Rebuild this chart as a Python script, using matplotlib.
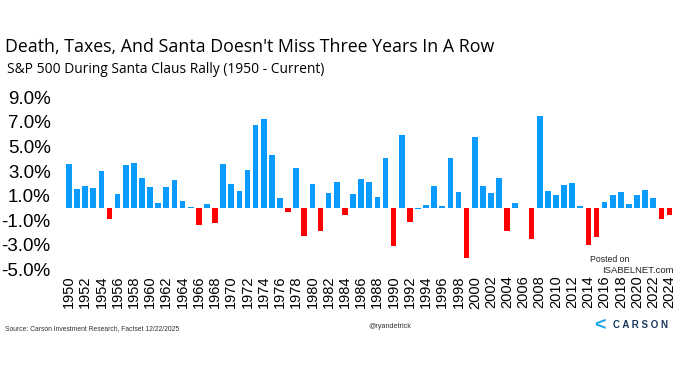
import matplotlib.pyplot as plt
import matplotlib.ticker as mticker

years = list(range(1950, 2025))
returns = [
    3.55, 1.53, 1.80, 1.64, 2.98, -0.93, 1.15, 3.52, 3.63, 2.40,
    1.67, 0.36, 1.72, 2.27, 0.55, 0.05, -1.42, 0.27, -1.20, 3.58,
    1.91, 1.34, 3.11, 6.72, 7.24, 4.34, 0.77, -0.33, 3.25, -2.27,
    1.94, -1.89, 1.17, 2.13, -0.60, 1.09, 2.35, 2.13, 0.87, 4.07,
    -3.09, 5.93, -1.12, -0.12, 0.22, 1.78, 0.14, 4.04, 1.31, -4.10,
    5.74, 1.78, 1.23, 2.40, -1.86, 0.38, 0.0, -2.57, 7.51, 1.39,
    1.04, 1.86, 2.02, 0.16, -3.01, -2.35, 0.44, 1.04, 1.28, 0.30,
    1.01, 1.42, 0.77, -0.90, -0.55,
]
yticks = [-5, -3, -1, 1, 3, 5, 7, 9]
xtick_years = years[::2]

# tiny dips (like 1993) still drawn blue in the original
colors = ['#FF0000' if v < -0.2 else '#0A9BFF' for v in returns]

plt.rcParams['font.family'] = ['Liberation Sans', 'DejaVu Sans']

fig = plt.figure(figsize=(6.8, 3.72), dpi=100)
ax = fig.add_axes([0.093, 0.27, 0.900, 0.478])

ax.bar(years, returns, width=0.7, color=colors)
ax.set_xlim(1949.3, 2024.7)
ax.set_ylim(-5.2, 9.3)
ax.set_yticks(yticks)
ax.yaxis.set_major_formatter(mticker.FuncFormatter(lambda v, p: f'{v:.1f}%'))
ax.set_xticks(xtick_years)
ax.set_xticklabels([str(y) for y in xtick_years], rotation=90)
ax.tick_params(axis='y', labelsize=13.5, length=0, pad=9)
ax.tick_params(axis='x', labelsize=10.5, length=0, pad=3)
for s in ax.spines.values():
    s.set_visible(False)

fig.text(0.007, 0.874, "Death, Taxes, And Santa Doesn't Miss Three Years In A Row",
         fontsize=12.8, va='center', family=['Open Sans', 'DejaVu Sans'])
fig.text(0.01, 0.812, "S&P 500 During Santa Claus Rally (1950 - Current)",
         fontsize=9.9, va='center', family=['Open Sans', 'DejaVu Sans'])

fig.text(0.007, 0.112, "Source: Carson Investment Research, Factset 12/22/2025",
         fontsize=4.9, color='#333333')
fig.text(0.541, 0.118, "@ryandetrick", fontsize=5.2, color='#333333')

# Carson logo and watermark
fig.text(0.901, 0.118, "C A R S O N", fontsize=7, color='#1a3a5c', weight='bold')
fig.text(0.873, 0.112, "<", fontsize=14, color='#1aa3e8', weight='bold')
fig.text(0.867, 0.295, "Posted on", fontsize=6.3, color='#222222')
fig.text(0.99, 0.265, "ISABELNET.com", fontsize=6.8, color='#222222', ha='right')

fig.savefig('out.png', dpi=100, facecolor='white')
